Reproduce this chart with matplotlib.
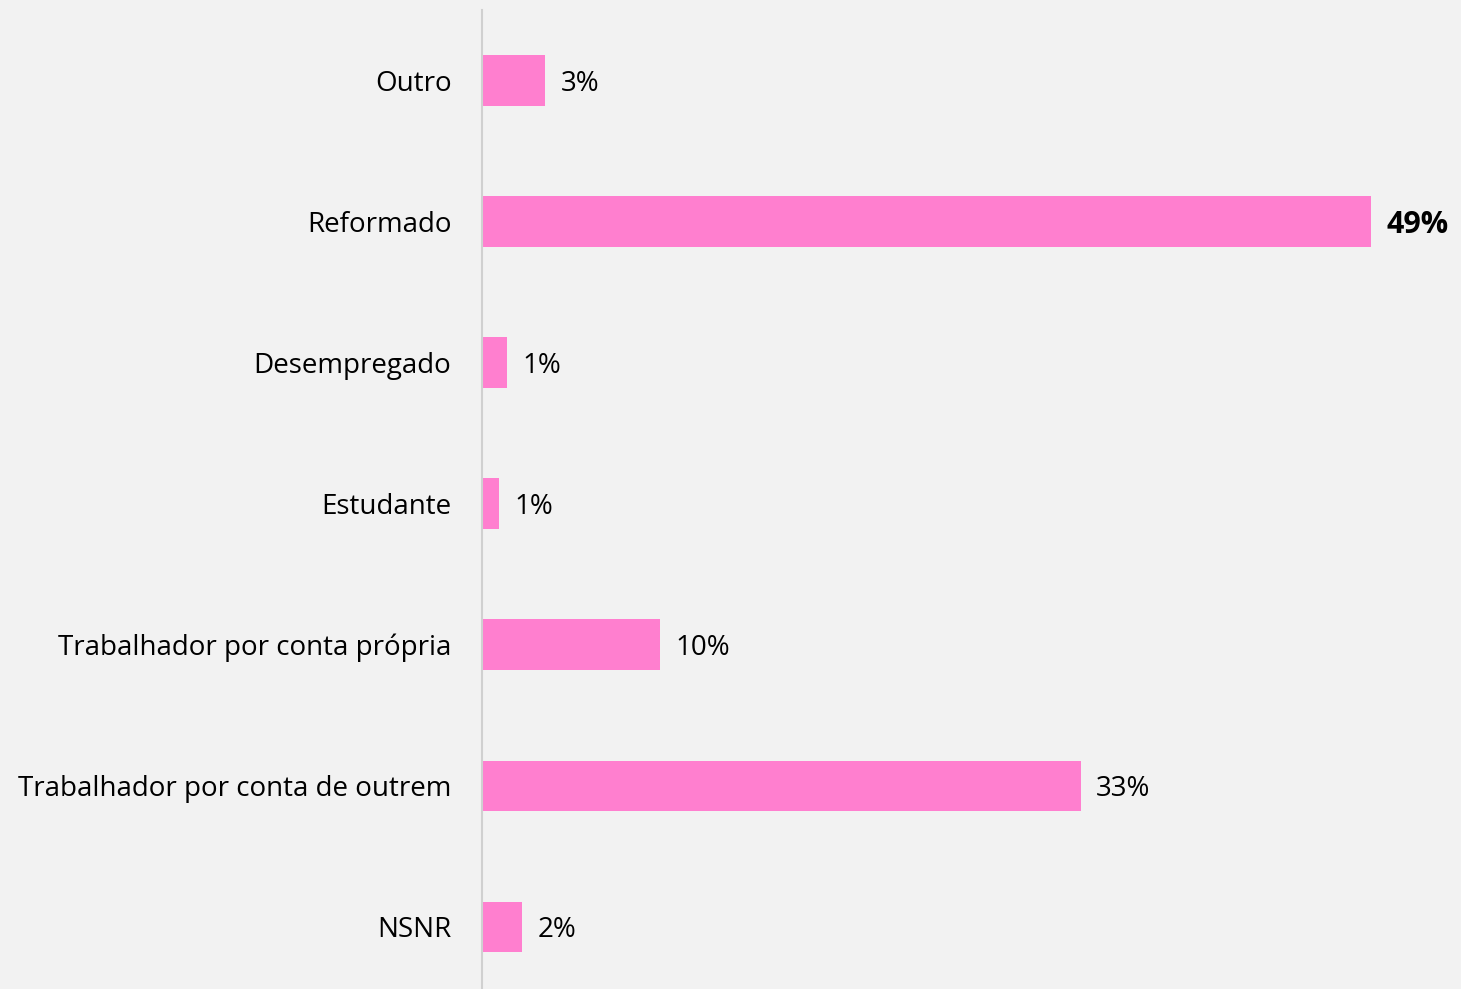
import matplotlib
matplotlib.use("Agg")
import matplotlib.pyplot as plt

categories = ["NSNR", "Trabalhador por conta de outrem", "Trabalhador por conta própria",
              "Estudante", "Desempregado", "Reformado", "Outro"]
values = [2.2, 33.0, 9.8, 0.94, 1.38, 49.0, 3.47]
labels = ["2%", "33%", "10%", "1%", "1%", "49%", "3%"]

bg = "#F2F2F2"
bar_color = "#FF7FCF"

plt.rcParams["font.family"] = ["Open Sans", "DejaVu Sans"]

fig = plt.figure(figsize=(14.61, 9.89), dpi=100, facecolor=bg)
ax = fig.add_axes([482 / 1461, 0.0, 1 - 482 / 1461, 979 / 989], facecolor=bg)

y = list(range(len(categories)))
ax.barh(y, values, height=0.355, color=bar_color)

for yi, v, lab in zip(y, values, labels):
    bold = lab == "49%"
    ax.text(v + 0.85, yi, lab, va="center_baseline", ha="left",
            fontsize=22 if bold else 20,
            fontweight="bold" if bold else "normal", color="black")

ax.set_yticks(y)
ax.set_yticklabels(categories, fontsize=20)
ax.tick_params(axis="y", length=0, pad=22)
ax.set_xticks([])
ax.set_xlim(0, (1461 - 482) / 18.14)
ax.set_ylim(-0.443, 6.5)

for s in ["top", "right", "bottom"]:
    ax.spines[s].set_visible(False)
ax.spines["left"].set_color("#D0D0D0")
ax.spines["left"].set_linewidth(1.5)

fig.savefig("out.png", dpi=100, facecolor=bg)
